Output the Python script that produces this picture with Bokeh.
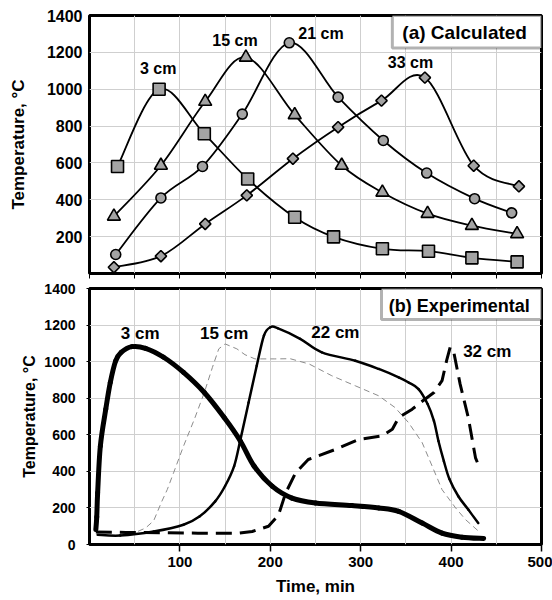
import numpy as np
from bokeh.plotting import figure
from bokeh.layouts import column
from bokeh.models import Label, FixedTicker, Range1d, BoxAnnotation
from bokeh.embed import file_html
from bokeh.resources import INLINE
from bokeh.core.properties import value

FONT = "Liberation Sans"

# ---------------- (a) Calculated ----------------
c3_x = [31, 77, 127, 175, 227, 270, 324, 375, 423, 473]
c3_y = [581, 1000, 758, 513, 305, 199, 134, 121, 85, 63]
c15_x = [27, 79, 128, 173, 227, 279, 324, 374, 423, 473]
c15_y = [310, 586, 933, 1173, 861, 586, 440, 325, 260, 215]
c21_x = [29, 79, 125, 169, 221, 275, 325, 373, 426, 467]
c21_y = [103, 410, 581, 865, 1252, 957, 722, 545, 406, 329]
c33_x = [27, 79, 128, 174, 225, 275, 323, 371, 425, 475]
c33_y = [34, 94, 269, 424, 623, 794, 938, 1063, 585, 473]

lab_a_text = ["3 cm", "15 cm", "21 cm", "33 cm"]
lab_a_x = [76, 161, 256, 355]
lab_a_y = [1114, 1263, 1303, 1144]

# ---------------- (b) Experimental ----------------
e3_x = [7, 8, 9, 12, 18, 23, 29, 35, 47, 62, 82, 104, 127, 149, 167, 182, 202, 224, 250, 290, 320, 342, 368, 390, 412, 436]
e3_y = [82, 150, 282, 538, 740, 886, 1005, 1051, 1082, 1073, 1024, 941, 831, 694, 565, 429, 319, 254, 227, 213, 200, 181, 117, 62, 40, 33]
e15_x = [10, 30, 49, 62, 71, 80, 86, 93, 104, 116, 127, 136, 143, 150, 163, 172, 183, 205, 222, 243, 268, 294, 320, 338, 353, 368, 379, 390, 405, 416, 431]
e15_y = [49, 50, 62, 90, 130, 236, 300, 392, 538, 685, 831, 969, 1070, 1097, 1070, 1038, 1015, 1015, 1016, 987, 923, 868, 813, 749, 666, 557, 429, 300, 200, 136, 70]
e22_x = [9, 34, 71, 104, 122, 139, 150, 160, 167, 176, 185, 193, 200, 208, 233, 257, 294, 320, 342, 353, 364, 374, 381, 386, 392, 398, 408, 419, 430]
e22_y = [53, 49, 71, 108, 154, 236, 320, 429, 575, 776, 978, 1143, 1188, 1183, 1125, 1051, 1005, 960, 914, 886, 850, 768, 676, 566, 456, 360, 264, 191, 117]
e32_x = [7, 40, 80, 120, 165, 180, 198, 209, 217, 228, 242, 272, 298, 323, 335, 342, 357, 366, 381, 390, 395, 399, 403, 410, 419, 427, 429]
e32_y = [68, 66, 64, 62, 62, 71, 100, 160, 282, 392, 465, 520, 575, 593, 630, 694, 740, 776, 831, 896, 1005, 1079, 1051, 877, 694, 474, 450]

lab_b_text = ["3 cm", "15 cm", "22 cm", "32 cm"]
lab_b_x = [56, 149, 272, 440]
lab_b_y = [1152, 1156, 1157, 1055]

x_grid = list(range(0, 501, 50))
y_grid = list(range(0, 1401, 200))
GREY = "#a3a3a3"


def smooth(p, xs, ys, **kw):
    xs = np.asarray(xs, float)
    ys = np.asarray(ys, float)
    n = len(xs)
    i = np.arange(n - 1)
    i0 = np.maximum(i - 1, 0)
    i3 = np.minimum(i + 2, n - 1)
    cx0 = xs[i] + (xs[i + 1] - xs[i0]) / 6.0
    cy0 = ys[i] + (ys[i + 1] - ys[i0]) / 6.0
    cx1 = xs[i + 1] - (xs[i3] - xs[i]) / 6.0
    cy1 = ys[i + 1] - (ys[i3] - ys[i]) / 6.0
    p.bezier(x0=xs[:-1], y0=ys[:-1], x1=xs[1:], y1=ys[1:],
             cx0=cx0, cy0=cy0, cx1=cx1, cy1=cy1, **kw)


def base_style(p):
    p.outline_line_color = "black"
    p.outline_line_width = 3
    p.xgrid.ticker = FixedTicker(ticks=x_grid)
    p.ygrid.ticker = FixedTicker(ticks=y_grid)
    p.grid.grid_line_color = "#cfcfcf"
    p.grid.grid_line_width = 1
    p.axis.axis_line_color = None
    p.axis.minor_tick_line_color = None
    p.axis.major_tick_in = 0
    p.axis.major_label_text_font = FONT
    p.axis.major_label_text_font_style = "bold"
    p.axis.major_label_text_color = "black"
    p.axis.axis_label_text_font = FONT
    p.axis.axis_label_text_font_style = "bold"
    p.axis.axis_label_text_color = "black"
    p.background_fill_color = "white"


# ---------- top figure ----------
p1 = figure(width=552, height=280, x_range=Range1d(0, 500), y_range=Range1d(0, 1400),
            output_backend="svg", toolbar_location=None,
            min_border_left=89, min_border_right=11, min_border_top=15, min_border_bottom=7)
base_style(p1)
# unlabeled tick marks only: use minor ticks (which carry no labels)
p1.xaxis.ticker = FixedTicker(ticks=[], minor_ticks=x_grid)
p1.xaxis.minor_tick_line_color = "black"
p1.xaxis.minor_tick_out = 5
p1.xaxis.minor_tick_in = 0
p1.xaxis.major_label_standoff = 0
p1.yaxis.ticker = FixedTicker(ticks=[200, 400, 600, 800, 1000, 1200, 1400])
p1.yaxis.major_tick_out = 0
p1.yaxis.major_tick_line_color = None
p1.yaxis.major_label_standoff = 7
p1.yaxis.major_label_text_font_size = "16px"
p1.yaxis.axis_label = "Temperature, °C"
p1.yaxis.axis_label_text_font_size = "17px"
p1.yaxis.axis_label_standoff = 16

for xs, ys in [(c3_x, c3_y), (c15_x, c15_y), (c21_x, c21_y), (c33_x, c33_y)]:
    smooth(p1, xs, ys, line_color="black", line_width=1.8, line_cap="round")

p1.scatter(c3_x, c3_y, marker="square", size=12, fill_color=GREY, line_color="black", line_width=1.6)
p1.scatter(c15_x, c15_y, marker="triangle", size=13, fill_color=GREY, line_color="black", line_width=1.6)
p1.scatter(c21_x, c21_y, marker="circle", size=10, fill_color=GREY, line_color="black", line_width=1.6)
p1.scatter(c33_x, c33_y, marker="square", angle=np.pi / 4, size=8, fill_color=GREY, line_color="black", line_width=1.6)

p1.text(lab_a_x, lab_a_y, text=lab_a_text, text_align="center", text_baseline="middle",
        text_font=value(FONT), text_font_style="bold", text_font_size="16px", text_color="black")

p1.add_layout(BoxAnnotation(left=335, right=500, top=1400, bottom=1224, fill_color="white", fill_alpha=1,
                            line_color="black", line_width=3))
p1.add_layout(Label(x=415, y=1310, text="(a) Calculated", text_align="center", text_baseline="middle",
                    text_font=FONT, text_font_style="bold", text_font_size="19px", text_color="black"))

# ---------- bottom figure ----------
p2 = figure(width=552, height=320, x_range=Range1d(0, 500), y_range=Range1d(0, 1400),
            output_backend="svg", toolbar_location=None,
            min_border_left=89, min_border_right=9, min_border_top=8, min_border_bottom=56)
base_style(p2)
p2.xaxis.ticker = FixedTicker(ticks=[100, 200, 300, 400, 500])
p2.xaxis.major_tick_out = 7
p2.xaxis.major_tick_line_width = 1.5
p2.xaxis.major_label_standoff = 5
p2.xaxis.major_label_text_font_size = "15px"
p2.xaxis.axis_label = "Time, min"
p2.xaxis.axis_label_text_font_size = "17px"
p2.xaxis.axis_label_standoff = 7
p2.yaxis.ticker = FixedTicker(ticks=y_grid)
p2.yaxis.major_tick_out = 3
p2.yaxis.major_label_standoff = 11
p2.yaxis.major_label_text_font_size = "14px"
p2.yaxis.axis_label = "Temperature, °C"
p2.yaxis.axis_label_text_font_size = "16px"
p2.yaxis.axis_label_standoff = 3

p2.line(e15_x, e15_y, line_color="#8c8c8c", line_width=1, line_dash="6 4")
p2.line(e32_x, e32_y, line_color="black", line_width=3, line_dash="16 8")
smooth(p2, e22_x, e22_y, line_color="black", line_width=2.5, line_cap="round")
smooth(p2, e3_x, e3_y, line_color="black", line_width=5, line_cap="round")

p2.text(lab_b_x, lab_b_y, text=lab_b_text, text_align="center", text_baseline="middle",
        text_font=value(FONT), text_font_style="bold", text_font_size="17px", text_color="black")

p2.add_layout(BoxAnnotation(left=323, right=500, top=1400, bottom=1231, fill_color="white", fill_alpha=1,
                            line_color="black", line_width=3))
p2.add_layout(Label(x=409, y=1303, text="(b) Experimental", text_align="center", text_baseline="middle",
                    text_font=FONT, text_font_style="bold", text_font_size="18px", text_color="black"))

layout = column(p1, p2, spacing=0)
open("out.html", "w").write(file_html(layout, INLINE))
